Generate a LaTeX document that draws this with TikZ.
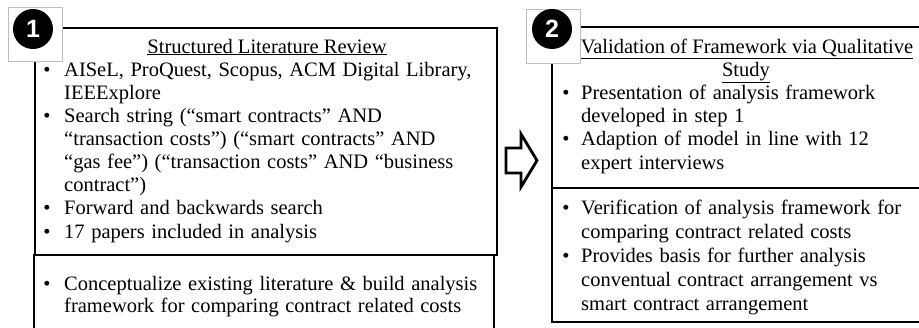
\documentclass[tikz,border=0pt]{standalone}
\usepackage{fontspec}
\setmainfont{Liberation Serif}
\newfontfamily\badgefont{Liberation Sans}
\newcommand\bodyfont{\fontsize{20.5}{23}\selectfont\spaceskip=0.32em plus 0.1em}
\begin{document}
\begin{tikzpicture}[x=1pt,y=-1pt,
  frame/.style={draw=black,line width=2.4pt},
  badgebox/.style={draw=black!25,fill=white,line width=0.8pt,minimum size=54pt,inner sep=0pt,anchor=north west},
  badgedot/.style={circle,fill=black,minimum size=40pt,inner sep=0pt,text=white,font=\badgefont\bfseries\fontsize{25}{25}\selectfont},
  txt/.style={anchor=base west,inner sep=0pt,font=\bodyfont},
  bul/.style={anchor=base,inner sep=0pt,font=\bodyfont},
  head/.style={anchor=base,inner sep=0pt,font=\fontsize{20.5}{23}\selectfont},
  blockarrow/.style={draw=black,line width=2.8pt,fill=white,line join=miter}]
\useasboundingbox (0,0) rectangle (919,327);
\begin{scope}
  \clip (0,0) rectangle (919,327);
  % step 1 panel: upper and lower compartments
  \draw[frame] (35,28) rectangle (497,255);
  \draw[frame] (34,255) rectangle (494,345);
  % step 2 panel
  \draw[frame] (552,27) rectangle (935,188);
  \draw[frame] (552,188) rectangle (935,322);
\end{scope}

% block arrow between the panels
\draw[blockarrow] (506,148) -- (521,148) -- (521,134) -- (537,160.5)
  -- (521,187) -- (521,173) -- (506,173) -- cycle;

% numbered badges
\node[badgebox] (sq1) at (8,7) {};
\node[badgedot] (b1) at (33,29) {1};
\node[badgebox] (sq2) at (526,9) {};
\node[badgedot] (b2) at (552,29) {2};

% step 1 text
\node[head] (h1) at (267,53) {\underline{Structured Literature Review}};
\node[bul] (p1a) at (47,76) {•};
\node[txt] (l1a) at (64,76) {AISeL, ProQuest, Scopus, ACM Digital Library,};
\node[txt] (l1b) at (64,99) {IEEExplore};
\node[bul] (p1b) at (47,122) {•};
\node[txt] (l1c) at (64,122) {Search string (“smart contracts” AND};
\node[txt] (l1d) at (64,145) {“transaction costs”) (“smart contracts” AND};
\node[txt] (l1e) at (64,168) {“gas fee”) (“transaction costs” AND “business};
\node[txt] (l1f) at (64,191) {contract”)};
\node[bul] (p1c) at (47,214) {•};
\node[txt] (l1g) at (64,214) {Forward and backwards search};
\node[bul] (p1d) at (47,238) {•};
\node[txt] (l1h) at (64,238) {17 papers included in analysis};
\node[bul] (p1e) at (47,290) {•};
\node[txt] (l1i) at (64,290) {Conceptualize existing literature \& build analysis};
\node[txt] (l1j) at (64,312) {framework for comparing contract related costs};

% step 2 text
\node[head] (h2a) at (747,53) {\underline{Validation of Framework via Qualitative}};
\node[head] (h2b) at (746,76) {\underline{Study}};
\node[bul] (p2a) at (566,99) {•};
\node[txt] (l2a) at (581,99) {Presentation of analysis framework};
\node[txt] (l2b) at (581,122) {developed in step 1};
\node[bul] (p2b) at (566,145) {•};
\node[txt] (l2c) at (581,145) {Adaption of model in line with 12};
\node[txt] (l2d) at (581,169) {expert interviews};
\node[bul] (p2c) at (566,214) {•};
\node[txt] (l2e) at (581,214) {Verification of analysis framework for};
\node[txt] (l2f) at (581,238) {comparing contract related costs};
\node[bul] (p2d) at (566,262) {•};
\node[txt] (l2g) at (581,262) {Provides basis for further analysis};
\node[txt] (l2h) at (581,286) {conventual contract arrangement vs};
\node[txt] (l2i) at (581,310) {smart contract arrangement};
\end{tikzpicture}
\end{document}
